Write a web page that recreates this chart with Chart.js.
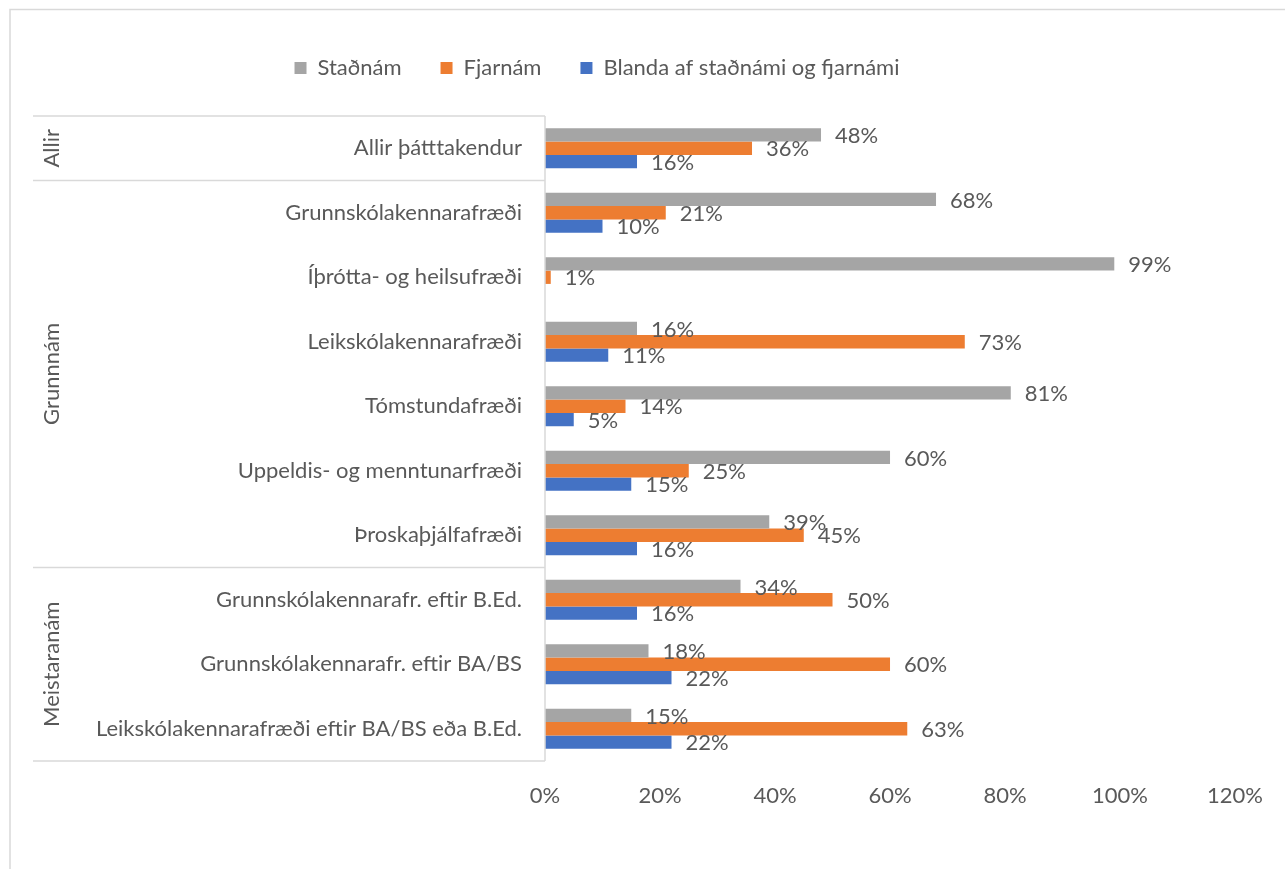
<!DOCTYPE html>
<html>
<head>
<meta charset="utf-8">
<script src="https://cdn.jsdelivr.net/npm/chart.js@4"></script>
<style>
  html, body { margin: 0; padding: 0; background: #fff; }
  #grafico { display: block; }
</style>
</head>
<body>
<canvas id="grafico" width="1285" height="869"></canvas>
<script>
const categorias = [
  'Allir þátttakendur',
  'Grunnskólakennarafræði',
  'Íþrótta- og heilsufræði',
  'Leikskólakennarafræði',
  'Tómstundafræði',
  'Uppeldis- og menntunarfræði',
  'Þroskaþjálfafræði',
  'Grunnskólakennarafr. eftir B.Ed.',
  'Grunnskólakennarafr. eftir BA/BS',
  'Leikskólakennarafræði eftir BA/BS eða B.Ed.'
];
const stadnam = [48, 68, 99, 16, 81, 60, 39, 34, 18, 15];
const fjarnam = [36, 21, 1, 73, 14, 25, 45, 50, 60, 63];
const blanda = [16, 10, null, 11, 5, 15, 16, 16, 22, 22];

// grupos de la izquierda y cuántas categorías abarca cada uno
const grupos = ['Allir', 'Grunnnám', 'Meistaranám'];
const tamanoGrupos = [1, 6, 3];

const ticksX = [0, 20, 40, 60, 80, 100, 120];

const FUENTE = 'Lato, "Noto Sans", sans-serif';
const GRIS_TEXTO = '#595959';
const GRIS_LINEA = '#d9d9d9';

const decoracion = {
  id: 'decoracion',
  beforeInit(chart) {
    const legend = chart.legend;
    const fitOrig = legend.fit;
    legend.fit = function () {
      fitOrig.call(this);
      this.height += 27;
    };
    const drawOrig = legend.draw;
    legend.draw = function () {
      this.ctx.save();
      this.ctx.translate(-26, 0);
      drawOrig.call(this);
      this.ctx.restore();
    };
  },
  beforeDraw(chart) {
    const ctx = chart.ctx;
    ctx.save();
    ctx.strokeStyle = GRIS_LINEA;
    ctx.lineWidth = 1.5;
    ctx.beginPath();
    ctx.moveTo(10, chart.height);
    ctx.lineTo(10, 9.5);
    ctx.lineTo(chart.width, 9.5);
    ctx.stroke();
    ctx.restore();
  },
  afterDraw(chart) {
    const ctx = chart.ctx;
    const y = chart.scales.y;
    const area = chart.chartArea;
    ctx.save();
    ctx.strokeStyle = GRIS_LINEA;
    ctx.lineWidth = 1.5;

    // eje vertical
    ctx.beginPath();
    ctx.moveTo(area.left, y.getPixelForValue(-0.5));
    ctx.lineTo(area.left, y.getPixelForValue(categorias.length - 0.5));
    ctx.stroke();

    // separadores y nombres de grupo
    let inicio = 0;
    const arriba = y.getPixelForValue(-0.5);
    ctx.beginPath();
    ctx.moveTo(33, arriba);
    ctx.lineTo(area.left, arriba);
    ctx.stroke();
    ctx.fillStyle = GRIS_TEXTO;
    ctx.font = '22px ' + FUENTE;
    ctx.textAlign = 'center';
    ctx.textBaseline = 'middle';
    grupos.forEach((nombre, i) => {
      const fin = inicio + tamanoGrupos[i];
      const y0 = y.getPixelForValue(inicio - 0.5);
      const y1 = y.getPixelForValue(fin - 0.5);
      ctx.beginPath();
      ctx.moveTo(33, y1);
      ctx.lineTo(area.left, y1);
      ctx.stroke();
      ctx.save();
      ctx.translate(52, (y0 + y1) / 2);
      ctx.rotate(-Math.PI / 2);
      ctx.fillText(nombre, 0, 0);
      ctx.restore();
      inicio = fin;
    });
    ctx.restore();
  },
  afterDatasetsDraw(chart) {
    const ctx = chart.ctx;
    ctx.save();
    ctx.fillStyle = GRIS_TEXTO;
    ctx.font = '22px ' + FUENTE;
    ctx.textAlign = 'left';
    ctx.textBaseline = 'middle';
    chart.data.datasets.forEach((ds, i) => {
      const meta = chart.getDatasetMeta(i);
      meta.data.forEach((barra, j) => {
        const v = ds.data[j];
        if (v === null || v === undefined) return;
        ctx.fillText(v + '%', barra.x + 14, barra.y + 1);
      });
    });
    ctx.restore();
  }
};

const ctx = document.getElementById('grafico').getContext('2d');
new Chart(ctx, {
  type: 'bar',
  data: {
    labels: categorias,
    datasets: [
      { label: 'Staðnám', data: stadnam, backgroundColor: '#A5A5A5' },
      { label: 'Fjarnám', data: fjarnam, backgroundColor: '#ED7D31' },
      { label: 'Blanda af staðnámi og fjarnámi', data: blanda, backgroundColor: '#4472C4' }
    ]
  },
  options: {
    indexAxis: 'y',
    responsive: false,
    animation: false,
    devicePixelRatio: 1,
    categoryPercentage: 0.62,
    barPercentage: 1,
    layout: { padding: { top: 18, right: 39, bottom: 0, left: 0 } },
    plugins: {
      legend: {
        position: 'top',
        labels: {
          boxWidth: 12,
          boxHeight: 12,
          padding: 39,
          color: GRIS_TEXTO,
          font: { family: FUENTE, size: 22 }
        }
      },
      tooltip: { enabled: false }
    },
    scales: {
      x: {
        min: 0,
        max: 120,
        afterBuildTicks: s => { s.ticks = ticksX.map(v => ({ value: v })); },
        afterFit: s => { s.height = 108; },
        grid: { display: false, drawTicks: false },
        border: { display: false },
        ticks: {
          padding: 22,
          color: GRIS_TEXTO,
          font: { family: FUENTE, size: 22 },
          callback: v => v + '%'
        }
      },
      y: {
        afterFit: s => { s.width = 545; },
        grid: { display: false, drawTicks: false },
        border: { display: false },
        ticks: {
          padding: 23,
          color: GRIS_TEXTO,
          font: { family: FUENTE, size: 22 }
        }
      }
    }
  },
  plugins: [decoracion]
});
</script>
</body>
</html>
